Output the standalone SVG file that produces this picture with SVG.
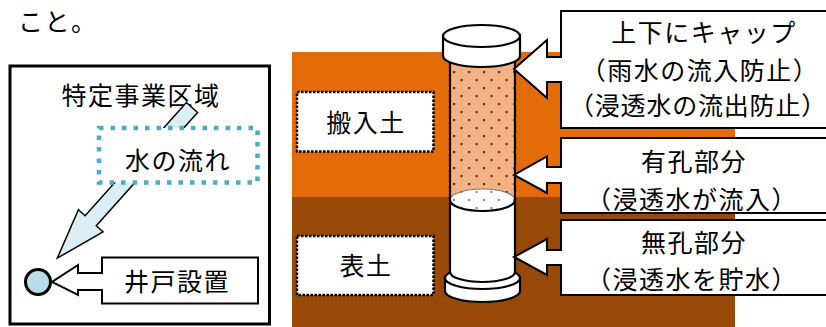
<svg xmlns="http://www.w3.org/2000/svg" width="826" height="327" viewBox="0 0 826 327">
  <defs>
    <pattern id="holes" x="450" y="52" width="15" height="16" patternUnits="userSpaceOnUse">
      <rect width="15" height="16" fill="#f4b183"/>
      <rect x="3" y="3" width="2.2" height="2.2" fill="#5e3210"/>
      <rect x="10.5" y="11" width="2.2" height="2.2" fill="#5e3210"/>
    </pattern>
    <pattern id="holesInner" x="450" y="52" width="15" height="16" patternUnits="userSpaceOnUse">
      <rect width="15" height="16" fill="#ffffff"/>
      <rect x="3" y="3" width="2" height="2" fill="#8a8a8a"/>
      <rect x="10.5" y="11" width="2" height="2" fill="#8a8a8a"/>
    </pattern>
  </defs>
  <style>
    .t { font-family: "Noto Sans CJK JP", "Noto Sans", sans-serif; font-size: 25px; letter-spacing: 1.5px; fill: #000; }
    .m { text-anchor: middle; }
    .tight { letter-spacing: 0.8px; }
    .callout { fill: #fff; stroke: #000; stroke-width: 2; stroke-linejoin: miter; }
    .dotbox { fill: #fff; stroke: #000; stroke-width: 2.5; stroke-dasharray: 2.5 1.5; }
    .pipe { stroke: #000; stroke-width: 2.2; }
  </style>

  <rect width="826" height="327" fill="#fff"/>

  <text class="t" x="18" y="31">こと。</text>

  <!-- site plan -->
  <g id="site">
    <rect x="10" y="66" width="259.5" height="258" fill="#fff" stroke="#000" stroke-width="3"/>
    <text class="t m" x="141" y="105">特定事業区域</text>
  </g>

  <g id="connectors">
    <!-- water flow arrow -->
    <polygon transform="translate(192,107.5) rotate(131.8)" points="0,-7.5 152,-7.5 152,-16.5 202,0 152,16.5 152,7.5 0,7.5" fill="#daeef3" stroke="#000" stroke-width="1.5"/>
  </g>

  <g id="flow">
    <rect x="99" y="128" width="158.5" height="54.5" fill="#fff" stroke="#4bacc6" stroke-width="4.5" stroke-dasharray="4.5 7"/>
    <text class="t m" x="178" y="170">水の流れ</text>
  </g>

  <g id="well">
    <circle cx="38" cy="282" r="12.5" fill="#b7dde8" stroke="#000" stroke-width="3"/>
  </g>

  <g id="well-label">
    <path class="callout" d="M258,257.5 H102 V273 H78 V265 L52,282 L78,295 V290 H102 V303.5 H258 Z"/>
    <text class="t m" x="177" y="291">井戸設置</text>
  </g>

  <!-- soil section -->
  <g id="soil">
    <rect x="292" y="52" width="443" height="145" fill="#e36c09"/>
    <rect x="292" y="197" width="443" height="130" fill="#984807"/>
  </g>

  <g id="fill-soil">
    <rect class="dotbox" x="297" y="92" width="136.5" height="59.5"/>
    <text class="t m" x="366" y="131.5">搬入土</text>
  </g>

  <g id="topsoil">
    <rect class="dotbox" x="297" y="236" width="136.5" height="59"/>
    <text class="t m" x="366" y="275">表土</text>
  </g>

  <!-- monitoring pipe -->
  <g id="pipe">
    <!-- bottom cap -->
    <path class="pipe" d="M445,278 V291 A37.5,11 0 0 0 520,291 V278 Z" fill="#fff"/>
    <ellipse class="pipe" cx="482.5" cy="278" rx="37.5" ry="11" fill="#fff"/>
    <!-- unperforated section -->
    <path class="pipe" d="M450,200 V272 A32.5,10 0 0 0 515,272 V200 Z" fill="#fff"/>
    <!-- perforated section -->
    <rect x="450" y="50" width="65" height="150" fill="url(#holes)"/>
    <ellipse cx="482.5" cy="200" rx="32.5" ry="11" fill="url(#holesInner)" stroke="#777" stroke-width="1.2"/>
    <path class="pipe" d="M450,200 A32.5,11 0 0 0 515,200" fill="none"/>
    <path class="pipe" d="M450,50 V200 M515,50 V200" fill="none"/>
    <!-- top cap -->
    <path class="pipe" d="M443,36 V56 A38.5,11 0 0 0 520,56 V36 Z" fill="#fff"/>
    <ellipse class="pipe" cx="481.5" cy="36" rx="38.5" ry="11" fill="#fff"/>
  </g>

  <g id="cap-label">
    <path class="callout" d="M840,11 H561 V57 H547 V40 L514,69 L547,98 V82 H561 V128 H840"/>
    <text class="t m" x="704" y="41.5">上下にキャップ</text>
    <text class="t m" x="700" y="80">（雨水の流入防止）</text>
    <text class="t m tight" x="698" y="115">（浸透水の流出防止）</text>
  </g>

  <g id="perforated-label">
    <path class="callout" d="M840,138 H561 V167 H547 V156.5 L514,175 L547,193 V183 H561 V213 H840"/>
    <text class="t m" x="694" y="171">有孔部分</text>
    <text class="t m" x="692" y="208.5">（浸透水が流入）</text>
  </g>

  <g id="solid-label">
    <path class="callout" d="M840,220 H561 V250 H547 V239 L514,257 L547,275 V265 H561 V295 H840"/>
    <text class="t m" x="694" y="252">無孔部分</text>
    <text class="t m" x="692" y="289">（浸透水を貯水）</text>
  </g>
</svg>
